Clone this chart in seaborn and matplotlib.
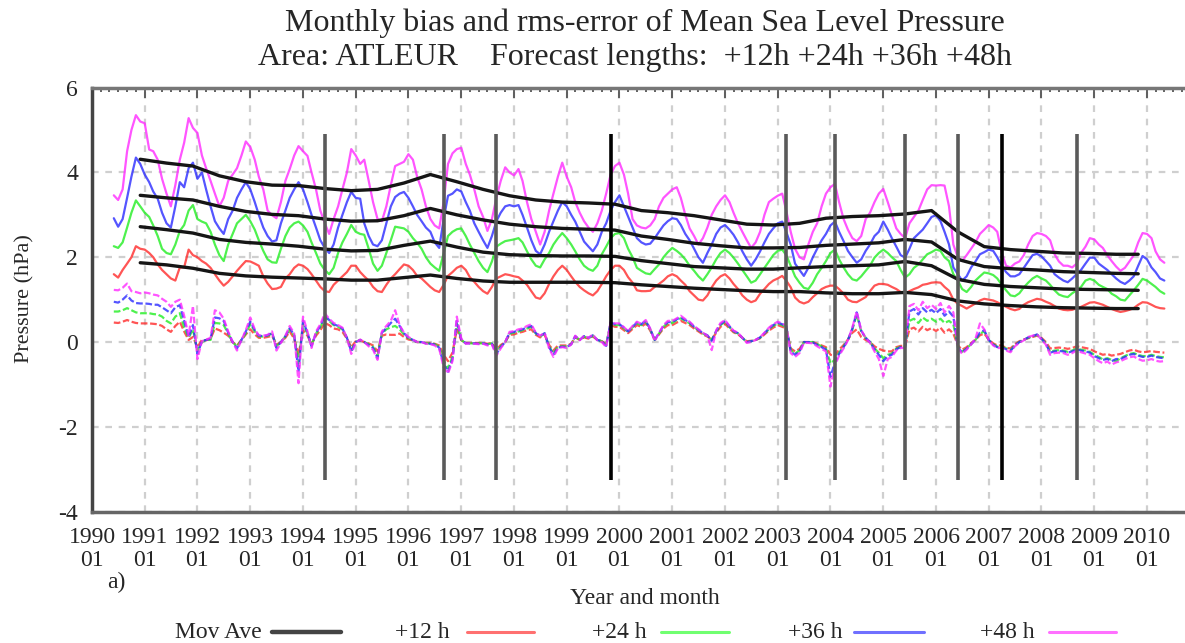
import pandas as pd
import seaborn as sns
import matplotlib.pyplot as plt
import matplotlib.dates as mdates
from matplotlib.lines import Line2D

# monthly values Jun 1990 - May 2010 (one row per calendar year)
rms_12h = [
    1.60, 1.52, 1.70, 1.85, 2.00, 2.26, 2.20,
    2.18, 2.10, 2.00, 1.83, 1.70, 1.60, 1.50, 1.45, 1.76, 1.76, 2.18, 2.05,
    2.00, 1.91, 1.85, 1.75, 1.60, 1.45, 1.33, 1.42, 1.55, 1.68, 1.80, 1.91,
    1.90, 1.85, 1.80, 1.55, 1.38, 1.25, 1.26, 1.30, 1.50, 1.60, 1.75, 1.83,
    1.80, 1.72, 1.60, 1.45, 1.30, 1.20, 1.18, 1.35, 1.45, 1.55, 1.65, 1.80,
    1.80, 1.65, 1.55, 1.45, 1.30, 1.20, 1.18, 1.35, 1.50, 1.60, 1.72, 1.83,
    1.80, 1.70, 1.56, 1.50, 1.40, 1.30, 1.22, 1.18, 1.35, 1.56, 1.65, 1.75,
    1.80, 1.70, 1.53, 1.42, 1.30, 1.20, 1.14, 1.30, 1.50, 1.55, 1.60, 1.58,
    1.55, 1.53, 1.45, 1.35, 1.20, 1.05, 1.02, 1.15, 1.37, 1.55, 1.70, 1.80,
    1.70, 1.55, 1.42, 1.30, 1.22, 1.15, 1.10, 1.20, 1.37, 1.55, 1.70, 1.80,
    1.80, 1.70, 1.53, 1.40, 1.22, 1.20, 1.20, 1.21, 1.30, 1.37, 1.45, 1.55,
    1.60, 1.55, 1.45, 1.35, 1.20, 1.10, 1.00, 0.98, 1.10, 1.29, 1.45, 1.55,
    1.60, 1.50, 1.37, 1.25, 1.10, 1.00, 0.94, 0.98, 1.14, 1.25, 1.37, 1.45,
    1.50, 1.56, 1.45, 1.29, 1.05, 0.95, 0.91, 0.95, 1.06, 1.15, 1.25, 1.30,
    1.33, 1.33, 1.25, 1.14, 1.00, 0.95, 0.94, 1.00, 1.06, 1.20, 1.33, 1.37,
    1.37, 1.35, 1.30, 1.25, 1.18, 1.14, 1.20, 1.25, 1.29, 1.35, 1.37, 1.40,
    1.41, 1.40, 1.30, 1.21, 1.00, 0.90, 0.85, 0.79, 0.85, 0.91, 0.98, 1.02,
    1.00, 0.98, 0.94, 0.88, 0.83, 0.78, 0.75, 0.78, 0.88, 0.94, 0.98, 1.02,
    1.00, 0.95, 0.91, 0.85, 0.79, 0.76, 0.75, 0.76, 0.80, 0.83, 0.88, 0.93,
    0.94, 0.91, 0.88, 0.83, 0.78, 0.74, 0.71, 0.73, 0.76, 0.80, 0.88, 0.94,
    0.93, 0.88, 0.83, 0.80, 0.79,
]
rms_24h = [
    2.26, 2.22, 2.35, 2.70, 3.05, 3.34, 3.20,
    3.05, 2.95, 2.75, 2.50, 2.20, 2.10, 2.07, 2.30, 2.62, 2.76, 3.10, 3.23,
    2.90, 2.84, 2.80, 2.60, 2.30, 2.05, 1.91, 2.30, 2.55, 2.80, 2.90, 3.00,
    2.85, 2.65, 2.40, 2.15, 1.95, 1.88, 1.87, 2.20, 2.50, 2.70, 2.80, 2.84,
    2.75, 2.60, 2.35, 2.10, 1.85, 1.70, 1.60, 1.75, 2.10, 2.35, 2.55, 2.76,
    2.60, 2.55, 2.53, 2.20, 1.85, 1.68, 1.80, 2.10, 2.40, 2.72, 2.70, 2.68,
    2.60, 2.45, 2.34, 2.20, 2.00, 1.85, 1.76, 1.68, 2.10, 2.50, 2.60, 2.66,
    2.68, 2.50, 2.30, 2.10, 1.91, 1.75, 1.65, 1.90, 2.25, 2.32, 2.38, 2.40,
    2.42, 2.45, 2.35, 2.14, 1.95, 1.80, 1.76, 1.95, 2.10, 2.30, 2.45, 2.57,
    2.45, 2.30, 2.14, 1.95, 1.80, 1.72, 1.68, 1.80, 2.07, 2.25, 2.45, 2.55,
    2.57, 2.45, 2.20, 2.00, 1.75, 1.68, 1.62, 1.60, 1.72, 1.83, 2.00, 2.12,
    2.22, 2.15, 2.07, 1.95, 1.80, 1.68, 1.55, 1.45, 1.60, 1.76, 1.95, 2.10,
    2.18, 2.10, 1.99, 1.85, 1.70, 1.55, 1.40, 1.45, 1.60, 1.75, 1.90, 2.05,
    2.15, 2.18, 2.05, 1.80, 1.55, 1.40, 1.28, 1.25, 1.40, 1.60, 1.75, 1.91,
    2.10, 2.18, 1.95, 1.76, 1.60, 1.48, 1.45, 1.55, 1.68, 1.80, 1.99, 2.10,
    2.18, 2.10, 2.00, 1.91, 1.70, 1.52, 1.60, 1.75, 1.83, 1.95, 2.07, 2.12,
    2.18, 2.15, 2.00, 1.91, 1.60, 1.45, 1.25, 1.18, 1.30, 1.45, 1.55, 1.64,
    1.62, 1.58, 1.50, 1.35, 1.22, 1.10, 1.08, 1.15, 1.29, 1.40, 1.50, 1.56,
    1.50, 1.45, 1.35, 1.22, 1.12, 1.08, 1.06, 1.15, 1.22, 1.30, 1.45, 1.49,
    1.45, 1.35, 1.30, 1.25, 1.14, 1.08, 1.00, 0.98, 1.10, 1.22, 1.35, 1.49,
    1.45, 1.37, 1.30, 1.20, 1.14,
]
rms_36h = [
    2.92, 2.72, 2.90, 3.40, 3.90, 4.35, 4.20,
    3.95, 3.77, 3.55, 3.38, 3.05, 2.80, 2.70, 3.20, 3.77, 3.65, 4.10, 4.23,
    3.85, 4.00, 3.60, 3.20, 2.85, 2.68, 2.55, 2.90, 3.10, 3.40, 3.60, 3.77,
    3.60, 3.30, 3.00, 2.70, 2.50, 2.37, 2.40, 2.80, 3.10, 3.40, 3.60, 3.77,
    3.60, 3.30, 3.00, 2.70, 2.40, 2.22, 2.10, 2.30, 2.70, 3.00, 3.30, 3.54,
    3.40, 3.38, 2.80, 2.50, 2.30, 2.26, 2.40, 2.80, 3.20, 3.42, 3.50, 3.54,
    3.40, 3.20, 3.00, 2.85, 2.70, 2.60, 2.35, 2.22, 2.90, 3.45, 3.50, 3.60,
    3.55, 3.30, 3.10, 2.80, 2.60, 2.40, 2.22, 2.50, 2.85, 3.05, 3.20, 3.23,
    3.20, 3.23, 3.00, 2.70, 2.40, 2.15, 2.07, 2.30, 2.60, 2.85, 3.10, 3.30,
    3.20, 3.00, 2.84, 2.60, 2.37, 2.25, 2.14, 2.30, 2.60, 2.80, 3.10, 3.30,
    3.46, 3.20, 2.95, 2.70, 2.45, 2.35, 2.30, 2.32, 2.45, 2.60, 2.75, 2.85,
    2.92, 2.90, 2.76, 2.55, 2.40, 2.20, 2.00, 1.87, 2.10, 2.30, 2.55, 2.70,
    2.76, 2.65, 2.53, 2.35, 2.14, 1.95, 1.80, 1.95, 2.14, 2.35, 2.55, 2.68,
    2.80, 2.84, 2.60, 2.30, 1.85, 1.70, 1.56, 1.75, 2.00, 2.20, 2.40, 2.55,
    2.75, 2.84, 2.60, 2.38, 2.15, 2.00, 1.87, 1.95, 2.15, 2.30, 2.50, 2.60,
    2.84, 2.65, 2.45, 2.25, 2.05, 1.99, 2.20, 2.45, 2.55, 2.65, 2.80, 2.95,
    2.99, 2.85, 2.60, 2.30, 1.76, 1.60, 1.45, 1.55, 1.76, 1.90, 2.07, 2.12,
    2.18, 2.15, 2.00, 1.80, 1.65, 1.55, 1.55, 1.60, 1.75, 1.90, 2.05, 2.08,
    2.02, 1.91, 1.80, 1.60, 1.52, 1.45, 1.41, 1.50, 1.60, 1.70, 1.85, 1.99,
    1.99, 1.85, 1.78, 1.70, 1.60, 1.50, 1.42, 1.37, 1.45, 1.55, 1.80, 2.03,
    1.95, 1.76, 1.65, 1.50, 1.45,
]
rms_48h = [
    3.46, 3.35, 3.60, 4.50, 5.00, 5.35, 5.20,
    5.16, 4.54, 4.50, 4.30, 3.85, 3.50, 3.20, 3.70, 4.30, 4.70, 5.28, 5.05,
    4.93, 4.40, 4.10, 3.80, 3.50, 3.20, 3.40, 3.80, 3.95, 4.10, 4.40, 4.73,
    4.60, 4.30, 3.90, 3.60, 3.10, 2.99, 2.92, 3.30, 3.80, 4.08, 4.40, 4.62,
    4.50, 4.39, 4.00, 3.60, 3.10, 2.80, 2.55, 2.90, 3.20, 3.60, 4.00, 4.55,
    4.40, 4.20, 4.30, 3.80, 3.30, 2.90, 2.85, 3.20, 3.70, 4.15, 4.20, 4.25,
    4.43, 4.30, 3.90, 3.60, 3.20, 2.90, 2.75, 2.68, 3.30, 4.20, 4.45, 4.55,
    4.58, 4.20, 3.95, 3.60, 3.20, 2.95, 2.62, 2.90, 3.40, 3.80, 4.12, 4.00,
    3.93, 4.08, 3.80, 3.30, 2.90, 2.60, 2.30, 2.60, 3.10, 3.50, 3.90, 4.23,
    3.90, 3.65, 3.30, 3.05, 2.85, 2.70, 2.60, 2.80, 3.10, 3.50, 3.95, 4.15,
    4.23, 3.95, 3.50, 2.90, 2.75, 2.70, 2.68, 2.75, 2.90, 3.20, 3.40, 3.50,
    3.60, 3.65, 3.40, 3.00, 2.68, 2.50, 2.30, 2.45, 2.70, 3.00, 3.20, 3.35,
    3.46, 3.30, 3.05, 2.80, 2.60, 2.40, 2.22, 2.35, 2.60, 3.00, 3.30, 3.38,
    3.45, 3.50, 3.10, 2.60, 2.20, 2.00, 1.95, 2.30, 2.60, 2.80, 3.20, 3.50,
    3.65, 3.73, 3.30, 2.90, 2.65, 2.45, 2.38, 2.50, 2.90, 3.05, 3.30, 3.50,
    3.61, 3.30, 3.00, 2.68, 2.55, 2.45, 2.80, 2.95, 3.10, 3.35, 3.60, 3.70,
    3.69, 3.70, 3.69, 3.20, 2.30, 2.00, 1.91, 2.05, 2.20, 2.35, 2.55, 2.65,
    2.76, 2.70, 2.60, 2.10, 1.80, 1.76, 1.85, 1.90, 2.05, 2.30, 2.50, 2.57,
    2.55, 2.50, 2.40, 2.07, 1.90, 1.80, 1.80, 1.76, 1.85, 2.10, 2.25, 2.45,
    2.42, 2.30, 2.22, 2.05, 1.91, 1.78, 1.68, 1.75, 1.90, 2.05, 2.35, 2.57,
    2.55, 2.45, 2.14, 1.95, 1.87,
]

bias_12h = [
    0.46, 0.45, 0.48, 0.52, 0.48, 0.45, 0.44,
    0.44, 0.44, 0.43, 0.42, 0.38, 0.30, 0.24, 0.38, 0.48, 0.25, 0.05, 0.12,
    -0.12, 0.05, 0.04, 0.08, 0.32, 0.28, 0.22, 0.15, 0.00, -0.08, 0.05, 0.18,
    0.30, 0.18, 0.10, 0.10, 0.12, 0.15, -0.06, 0.00, 0.10, 0.25, 0.08, -0.30,
    0.28, 0.15, -0.05, 0.15, 0.28, 0.45, 0.40, 0.32, 0.30, 0.24, 0.08, -0.12,
    0.02, 0.04, 0.00, -0.03, -0.08, -0.22, 0.15, 0.18, 0.17, 0.17, 0.20, 0.12,
    0.06, 0.04, 0.00, 0.00, -0.02, -0.02, -0.04, -0.08, -0.30, -0.45, -0.25, 0.30,
    0.04, -0.02, -0.02, -0.02, -0.02, -0.02, -0.04, -0.02, -0.18, -0.07, 0.00, 0.17,
    0.18, 0.22, 0.24, 0.28, 0.30, 0.17, 0.11, 0.17, -0.07, -0.20, -0.08, -0.08,
    -0.08, -0.04, 0.11, 0.05, 0.11, 0.08, 0.13, 0.05, 0.02, -0.05, 0.40, 0.36,
    0.36, 0.28, 0.21, 0.31, 0.40, 0.36, 0.44, 0.27, 0.06, 0.18, 0.32, 0.40,
    0.40, 0.46, 0.50, 0.45, 0.40, 0.32, 0.25, 0.18, 0.13, 0.06, 0.22, 0.36,
    0.43, 0.32, 0.23, 0.18, 0.10, 0.02, 0.03, 0.05, 0.09, 0.18, 0.27, 0.34,
    0.40, 0.36, 0.32, -0.15, -0.22, -0.16, 0.00, 0.00, 0.00, -0.04, -0.08, -0.12,
    -0.30, -0.32, -0.18, -0.07, 0.06, 0.22, 0.30, 0.12, 0.05, 0.00, -0.10, -0.16,
    -0.20, -0.22, -0.22, -0.12, -0.09, -0.09, 0.30, 0.34, 0.25, 0.36, 0.28, 0.33,
    0.26, 0.34, 0.22, 0.30, 0.20, -0.08, -0.18, -0.12, -0.02, 0.05, 0.16, 0.20,
    0.06, -0.03, -0.08, -0.08, -0.14, -0.15, -0.05, 0.02, 0.06, 0.09, 0.12, 0.15,
    0.10, 0.00, -0.15, -0.14, -0.13, -0.14, -0.16, -0.14, -0.10, -0.12, -0.14, -0.16,
    -0.22, -0.26, -0.30, -0.28, -0.32, -0.30, -0.28, -0.24, -0.20, -0.18, -0.22, -0.24,
    -0.23, -0.21, -0.23, -0.24, -0.25,
]
bias_24h = [
    0.72, 0.72, 0.75, 0.80, 0.75, 0.70, 0.68,
    0.68, 0.68, 0.66, 0.65, 0.60, 0.50, 0.44, 0.60, 0.68, 0.35, 0.10, 0.30,
    -0.20, 0.00, 0.05, 0.05, 0.45, 0.44, 0.40, 0.20, 0.00, -0.11, 0.05, 0.20,
    0.42, 0.25, 0.13, 0.13, 0.15, 0.20, -0.10, 0.00, 0.13, 0.30, 0.15, -0.50,
    0.42, 0.20, -0.08, 0.20, 0.35, 0.58, 0.50, 0.40, 0.36, 0.30, 0.10, -0.19,
    0.00, 0.05, 0.00, -0.05, -0.11, -0.33, 0.20, 0.30, 0.35, 0.38, 0.30, 0.18,
    0.09, 0.05, 0.00, 0.00, -0.03, -0.03, -0.05, -0.11, -0.45, -0.62, -0.35, 0.44,
    0.05, -0.03, -0.03, -0.03, -0.03, -0.03, -0.05, -0.03, -0.25, -0.10, 0.00, 0.20,
    0.22, 0.25, 0.28, 0.32, 0.36, 0.20, 0.13, 0.20, -0.10, -0.27, -0.11, -0.10,
    -0.11, -0.05, 0.13, 0.05, 0.13, 0.09, 0.15, 0.05, 0.02, -0.07, 0.44, 0.40,
    0.40, 0.32, 0.24, 0.35, 0.44, 0.40, 0.48, 0.30, 0.05, 0.20, 0.36, 0.45,
    0.45, 0.52, 0.56, 0.50, 0.44, 0.35, 0.28, 0.20, 0.15, 0.05, 0.25, 0.40,
    0.48, 0.35, 0.25, 0.20, 0.10, 0.00, 0.02, 0.05, 0.10, 0.20, 0.30, 0.38,
    0.44, 0.40, 0.35, -0.19, -0.27, -0.20, 0.00, 0.00, 0.00, -0.05, -0.10, -0.15,
    -0.50, -0.42, -0.25, -0.10, 0.05, 0.30, 0.65, 0.25, 0.10, 0.00, -0.15, -0.25,
    -0.38, -0.30, -0.27, -0.15, -0.11, -0.11, 0.50, 0.55, 0.45, 0.58, 0.50, 0.55,
    0.48, 0.55, 0.45, 0.50, 0.42, -0.11, -0.23, -0.15, -0.05, 0.05, 0.20, 0.25,
    0.05, -0.05, -0.11, -0.11, -0.15, -0.19, -0.07, 0.00, 0.05, 0.10, 0.13, 0.17,
    0.08, -0.03, -0.23, -0.20, -0.19, -0.20, -0.23, -0.20, -0.15, -0.18, -0.20, -0.23,
    -0.30, -0.35, -0.41, -0.38, -0.42, -0.45, -0.38, -0.33, -0.28, -0.26, -0.30, -0.33,
    -0.33, -0.30, -0.33, -0.35, -0.36,
]
bias_36h = [
    0.95, 0.93, 1.00, 1.10, 0.98, 0.92, 0.91,
    0.91, 0.90, 0.88, 0.88, 0.82, 0.75, 0.68, 0.82, 0.87, 0.50, 0.12, 0.40,
    -0.28, 0.02, 0.05, 0.08, 0.58, 0.56, 0.50, 0.22, 0.00, -0.15, 0.05, 0.25,
    0.48, 0.28, 0.15, 0.14, 0.16, 0.22, -0.14, 0.00, 0.14, 0.33, 0.16, -0.70,
    0.50, 0.22, -0.10, 0.22, 0.38, 0.62, 0.52, 0.42, 0.38, 0.32, 0.10, -0.22,
    0.00, 0.05, 0.00, -0.07, -0.14, -0.38, 0.22, 0.33, 0.45, 0.55, 0.38, 0.21,
    0.10, 0.05, 0.00, 0.00, -0.03, -0.04, -0.06, -0.13, -0.52, -0.70, -0.40, 0.50,
    0.06, -0.03, -0.03, -0.03, -0.04, -0.03, -0.06, -0.04, -0.28, -0.12, 0.00, 0.22,
    0.24, 0.27, 0.30, 0.34, 0.38, 0.21, 0.14, 0.21, -0.12, -0.30, -0.13, -0.11,
    -0.12, -0.05, 0.14, 0.05, 0.14, 0.10, 0.16, 0.05, 0.02, -0.09, 0.46, 0.42,
    0.42, 0.34, 0.25, 0.36, 0.46, 0.42, 0.50, 0.31, 0.05, 0.21, 0.38, 0.47,
    0.47, 0.54, 0.58, 0.52, 0.46, 0.36, 0.29, 0.21, 0.16, 0.03, 0.26, 0.42,
    0.50, 0.37, 0.26, 0.21, 0.10, 0.00, 0.02, 0.05, 0.11, 0.21, 0.32, 0.40,
    0.46, 0.42, 0.37, -0.22, -0.30, -0.22, 0.00, 0.00, -0.01, -0.07, -0.12, -0.18,
    -0.82, -0.48, -0.28, -0.12, 0.05, 0.32, 0.70, 0.27, 0.10, 0.00, -0.17, -0.30,
    -0.45, -0.33, -0.30, -0.17, -0.12, -0.12, 0.72, 0.78, 0.65, 0.80, 0.70, 0.76,
    0.68, 0.78, 0.62, 0.72, 0.60, -0.12, -0.25, -0.16, -0.05, 0.06, 0.22, 0.28,
    0.05, -0.06, -0.12, -0.12, -0.17, -0.21, -0.08, 0.00, 0.05, 0.11, 0.14, 0.18,
    0.08, -0.04, -0.25, -0.22, -0.21, -0.22, -0.25, -0.22, -0.17, -0.20, -0.22, -0.25,
    -0.33, -0.38, -0.42, -0.40, -0.45, -0.40, -0.40, -0.35, -0.30, -0.28, -0.32, -0.35,
    -0.35, -0.32, -0.35, -0.37, -0.38,
]
bias_48h = [
    1.23, 1.22, 1.28, 1.38, 1.20, 1.18, 1.15,
    1.17, 1.15, 1.12, 1.10, 1.02, 0.95, 0.83, 0.95, 1.00, 0.62, 0.15, 0.85,
    -0.40, 0.02, 0.06, 0.10, 0.75, 0.70, 0.55, 0.25, 0.00, -0.20, 0.05, 0.28,
    0.58, 0.30, 0.16, 0.15, 0.17, 0.25, -0.20, -0.02, 0.15, 0.38, 0.20, -0.97,
    0.60, 0.25, -0.14, 0.25, 0.42, 0.68, 0.55, 0.45, 0.40, 0.34, 0.10, -0.28,
    -0.02, 0.06, 0.00, -0.10, -0.18, -0.42, 0.25, 0.38, 0.50, 0.75, 0.40, 0.22,
    0.12, 0.06, 0.00, 0.00, -0.04, -0.05, -0.08, -0.16, -0.60, -0.74, -0.45, 0.60,
    0.08, -0.04, -0.03, -0.04, -0.05, -0.04, -0.08, -0.06, -0.32, -0.15, 0.00, 0.24,
    0.26, 0.30, 0.32, 0.38, 0.42, 0.22, 0.15, 0.22, -0.15, -0.35, -0.15, -0.12,
    -0.14, -0.06, 0.15, 0.04, 0.15, 0.10, 0.18, 0.04, 0.00, -0.12, 0.48, 0.44,
    0.44, 0.35, 0.26, 0.38, 0.48, 0.43, 0.52, 0.32, 0.02, 0.22, 0.40, 0.50,
    0.50, 0.56, 0.62, 0.54, 0.48, 0.38, 0.30, 0.22, 0.15, -0.19, 0.28, 0.45,
    0.52, 0.38, 0.27, 0.22, 0.10, -0.02, 0.00, 0.05, 0.12, 0.22, 0.34, 0.42,
    0.48, 0.44, 0.38, -0.26, -0.35, -0.26, -0.02, -0.02, -0.03, -0.10, -0.16, -0.22,
    -1.05, -0.55, -0.32, -0.15, 0.04, 0.35, 0.72, 0.28, 0.10, -0.02, -0.22, -0.40,
    -0.80, -0.40, -0.35, -0.20, -0.14, -0.14, 0.85, 0.90, 0.75, 0.95, 0.80, 0.88,
    0.78, 0.92, 0.70, 0.85, 0.70, -0.14, -0.28, -0.18, -0.06, 0.08, 0.44, 0.30,
    0.04, -0.08, -0.14, -0.14, -0.20, -0.24, -0.10, -0.02, 0.04, 0.12, 0.15, 0.18,
    0.06, -0.06, -0.30, -0.26, -0.25, -0.26, -0.30, -0.26, -0.20, -0.24, -0.27, -0.30,
    -0.38, -0.45, -0.50, -0.46, -0.53, -0.48, -0.45, -0.40, -0.36, -0.34, -0.40, -0.44,
    -0.43, -0.40, -0.44, -0.46, -0.45,
]

# 12-month moving averages of the rms error, read every 6 months (Dec 1990 .. Nov 2009)
ma_12h = [1.87, 1.82, 1.74, 1.62, 1.56, 1.53, 1.51, 1.49, 1.46, 1.46, 1.52, 1.58, 1.50,
          1.44, 1.41, 1.41, 1.41, 1.41, 1.40, 1.35, 1.31, 1.27, 1.24, 1.21, 1.19, 1.19,
          1.16, 1.14, 1.14, 1.17, 1.12, 0.97, 0.90, 0.86, 0.83, 0.81, 0.80, 0.79, 0.79]
ma_24h = [2.72, 2.65, 2.57, 2.42, 2.35, 2.31, 2.26, 2.19, 2.15, 2.16, 2.28, 2.38, 2.24,
          2.12, 2.06, 2.04, 2.03, 2.03, 2.02, 1.92, 1.85, 1.78, 1.75, 1.72, 1.72, 1.75,
          1.78, 1.80, 1.82, 1.90, 1.80, 1.48, 1.36, 1.31, 1.28, 1.25, 1.24, 1.23, 1.22]
ma_36h = [3.46, 3.40, 3.35, 3.20, 3.08, 3.01, 2.98, 2.90, 2.85, 2.86, 2.98, 3.15, 3.00,
          2.88, 2.78, 2.72, 2.68, 2.66, 2.64, 2.50, 2.42, 2.33, 2.27, 2.22, 2.22, 2.23,
          2.28, 2.31, 2.34, 2.42, 2.36, 1.95, 1.78, 1.73, 1.70, 1.66, 1.64, 1.62, 1.61]
ma_48h = [4.31, 4.22, 4.15, 3.92, 3.78, 3.70, 3.69, 3.62, 3.57, 3.60, 3.75, 3.95, 3.78,
          3.60, 3.45, 3.35, 3.30, 3.28, 3.25, 3.10, 3.05, 2.98, 2.88, 2.78, 2.76, 2.80,
          2.92, 2.96, 2.98, 3.02, 3.10, 2.60, 2.25, 2.18, 2.14, 2.10, 2.09, 2.07, 2.07]

# model change dates (vertical bars); the two black ones are major upgrades
model_changes = ["1994-06", "1996-09", "1997-09", "1999-11", "2003-03",
                 "2004-02", "2005-06", "2006-06", "2007-04", "2008-09"]
major_changes = ["1999-11", "2007-04"]

labels = ["+12 h", "+24 h", "+36 h", "+48 h"]
colors = ["#ff2a2a", "#22ee22", "#2a2aff", "#ff2aff"]
key_colors = ["#ff7070", "#70ff70", "#7070ff", "#ff70ff"]

months = pd.date_range("1990-06-01", periods=len(rms_12h), freq="MS")
ma_months = list(pd.date_range("1990-12-01", "2009-06-01", freq="6MS")) + [pd.Timestamp("2009-11-01")]
for s in [rms_12h, rms_24h, rms_36h, rms_48h, bias_12h, bias_24h, bias_36h, bias_48h]:
    assert len(s) == len(months), len(s)
for s in [ma_12h, ma_24h, ma_36h, ma_48h]:
    assert len(s) == len(ma_months), len(s)

sns.set_style("white")
plt.rcParams["font.family"] = ["Liberation Serif", "DejaVu Serif"]
plt.rcParams["axes.unicode_minus"] = False

fig = plt.figure(figsize=(11.85, 6.43), dpi=100)
W, H = 1185, 643
x_end = pd.Timestamp("2010-12-20")
ax = fig.add_axes([92 / W, 1 - 511.7 / H, 1106 / W, 424.1 / H])

rms = [rms_12h, rms_24h, rms_36h, rms_48h]
bias = [bias_12h, bias_24h, bias_36h, bias_48h]
mavg = [ma_12h, ma_24h, ma_36h, ma_48h]

for vals, c in zip(rms, colors):
    sns.lineplot(x=months, y=vals, color=c, lw=1.6, alpha=0.8, ax=ax, zorder=2)
for vals, c in zip(bias, colors):
    sns.lineplot(x=months, y=vals, color=c, lw=1.6, alpha=0.8, ax=ax, zorder=2,
                 linestyle=(0, (3, 1.2)))
for vals in mavg:
    sns.lineplot(x=ma_months, y=vals, color="#151515", lw=2.4, ax=ax, zorder=3)

change_dates = pd.to_datetime(model_changes)
bar_colors = ["#000000" if d in major_changes else "#5a5a5a" for d in model_changes]
ax.vlines(change_dates, -3.25, 4.9, colors=bar_colors, linewidth=2.6, zorder=5)

ax.set_xlim(pd.Timestamp("1990-01-01"), x_end)
ax.set_ylim(-4, 6)
ax.set_yticks(range(-4, 7, 2))
ax.xaxis.set_major_locator(mdates.YearLocator())
ax.xaxis.set_major_formatter(mdates.DateFormatter("%Y\n%m"))
ax.xaxis.set_minor_locator(mdates.MonthLocator(bymonth=[3, 5, 7, 9, 11]))
ax.set_xlabel("")
ax.set_ylabel("")

ax.grid(True, which="major", color="#cfcfcf", linestyle=(0, (3, 3)), linewidth=1.6)
ax.set_axisbelow(True)
ax.tick_params(axis="both", which="both", direction="in", top=True, color="#555555",
               labelsize=17, width=1.3)
ax.tick_params(axis="x", which="major", length=7, pad=11)
ax.tick_params(axis="x", which="minor", length=3)
ax.tick_params(axis="y", which="major", length=5, pad=10)
for lab in ax.get_xticklabels():
    lab.set_linespacing(1.12)
for side, col in [("left", "#444444"), ("bottom", "#666666"), ("top", "#777777")]:
    ax.spines[side].set_color(col)
    ax.spines[side].set_linewidth(2.5)
ax.spines["right"].set_visible(False)

fig.text(645 / W, 1 - 23 / H, "Monthly bias and rms-error of Mean Sea Level Pressure",
         ha="center", va="center", fontsize=23)
fig.text(635 / W, 1 - 57 / H, "Area: ATLEUR    Forecast lengths:  +12h +24h +36h +48h",
         ha="center", va="center", fontsize=23)
fig.text(25 / W, 1 - 299 / H, "Pressure (hPa)", rotation=90, ha="center", va="center",
         fontsize=16)
fig.text(645 / W, 1 - 598 / H, "Year and month", ha="center", va="center", fontsize=17)
fig.text(107 / W, 1 - 582 / H, "a)", ha="left", va="center", fontsize=17)

# key along the bottom: text right-aligned before each sample line
key_y = 1 - 632 / H
key = [("Mov Ave", "#444444", 3.2, 262, 272, 341)]
key += [(lab, c, 2.2, tx, x0, x1) for lab, c, tx, x0, x1 in
        zip(labels, key_colors, [450, 647, 843, 1035], [467, 661, 854, 1049],
            [534, 729, 924, 1116])]
for lab, c, lw, tx, x0, x1 in key:
    fig.text(tx / W, key_y, lab, ha="right", va="center", fontsize=17)
    fig.add_artist(Line2D([x0 / W, x1 / W], [key_y, key_y], color=c, lw=lw,
                          transform=fig.transFigure))

fig.savefig("out.png", dpi=100)
